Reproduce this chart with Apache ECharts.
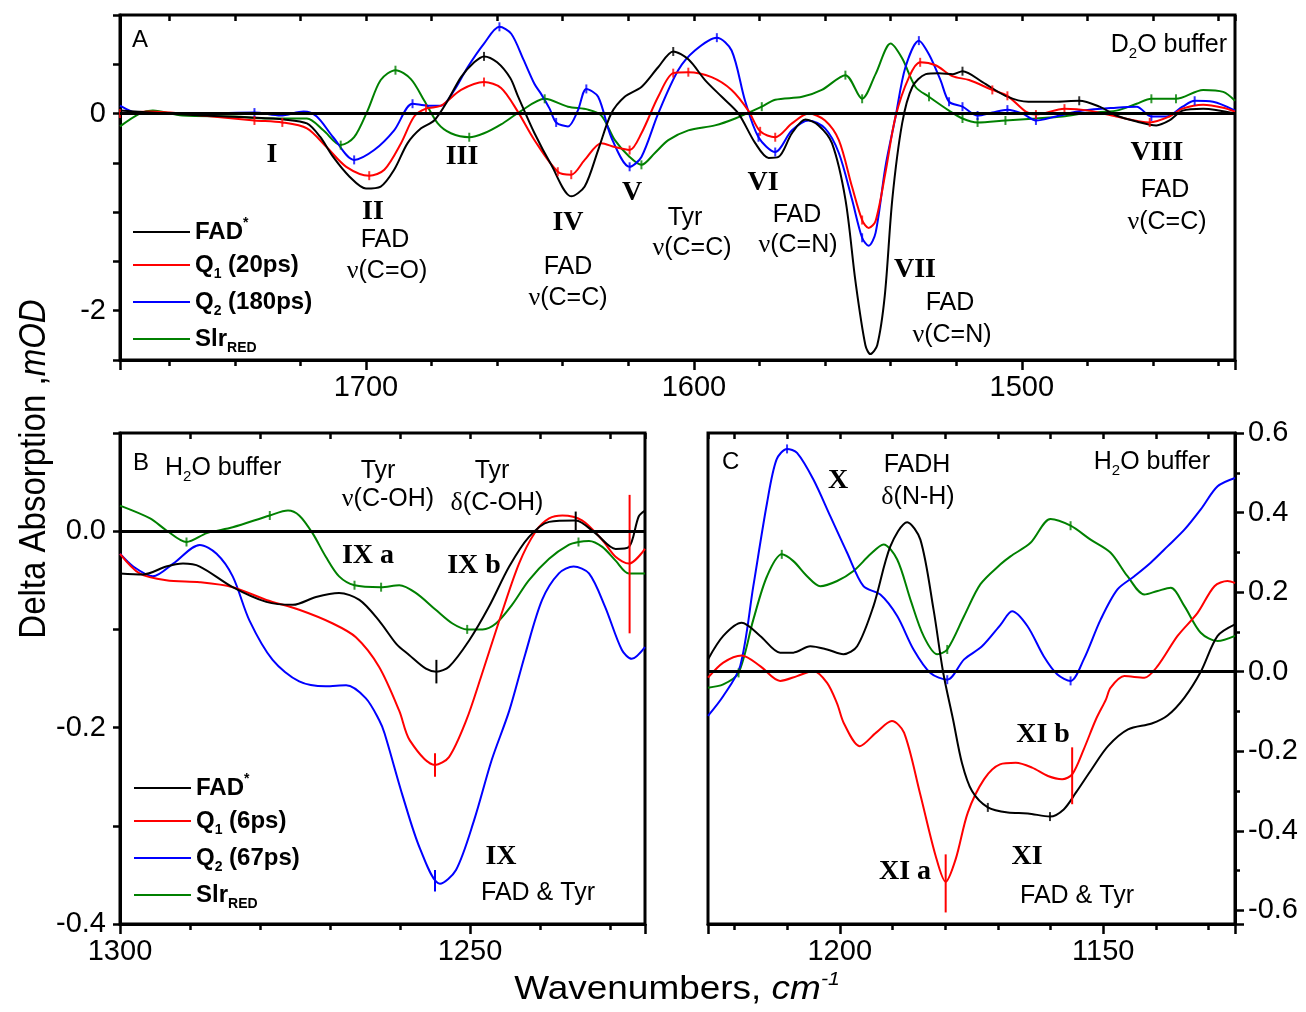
<!DOCTYPE html>
<html><head><meta charset="utf-8">
<script src="https://cdn.jsdelivr.net/npm/echarts@6/dist/echarts.min.js"></script>
<style>html,body{margin:0;padding:0;background:#fff}#c{width:1306px;height:1012px}</style>
</head><body><div id="c"></div>
<script>
// ---------------- DATA ----------------
// Panel A (D2O buffer): [wavenumber, mOD]
const A_FAD = [[1775,0.03],[1761,0.0],[1750,-0.02],[1735,-0.04],[1725,-0.06],[1718,-0.1],[1714,-0.235],[1710,-0.44],[1705,-0.64],[1700,-0.76],[1695.5,-0.74],[1691.4,-0.57],[1687.3,-0.30],[1683.2,-0.15],[1679.2,-0.07],[1675.1,0.13],[1671,0.37],[1667,0.52],[1664,0.58],[1660,0.52],[1656,0.36],[1653.7,0.18],[1648.6,-0.2],[1643.5,-0.52],[1637.4,-0.84],[1633.3,-0.74],[1629.2,-0.37],[1625.2,0.0],[1621.1,0.17],[1616,0.27],[1610.9,0.47],[1606.3,0.63],[1601.7,0.55],[1596.6,0.34],[1591.5,0.17],[1586.4,0.0],[1581.3,-0.3],[1577.2,-0.45],[1574.2,-0.44],[1570.1,-0.2],[1566,-0.06],[1562,-0.12],[1557.9,-0.3],[1553.8,-0.87],[1550.7,-1.71],[1547.7,-2.35],[1546.2,-2.44],[1544.1,-2.35],[1541.8,-1.85],[1539.5,-0.87],[1536.5,-0.1],[1533.4,0.27],[1529.3,0.40],[1525.3,0.41],[1521,0.40],[1518.1,0.43],[1512,0.32],[1505,0.18],[1498,0.12],[1490,0.12],[1482.5,0.13],[1476.3,0.07],[1471.2,-0.02],[1465,-0.08],[1459,-0.12],[1455,-0.07],[1451,0.03],[1444.7,0.05],[1435,0.0]];
const A_Q1 = [[1775,0.0],[1766,0.02],[1750,-0.02],[1734,-0.07],[1725.5,-0.09],[1718,-0.15],[1712,-0.34],[1706,-0.54],[1699,-0.63],[1694.4,-0.57],[1689.3,-0.3],[1685.3,-0.03],[1681.7,0.05],[1677.1,0.08],[1671,0.24],[1664,0.32],[1658.8,0.26],[1653.7,0.02],[1648.6,-0.27],[1641.5,-0.59],[1637.4,-0.62],[1633.3,-0.47],[1628.2,-0.30],[1624.1,-0.34],[1619.6,-0.37],[1616,-0.2],[1610.9,0.17],[1606.3,0.41],[1601.7,0.42],[1594.6,0.37],[1588.5,0.24],[1583.4,0.03],[1579.8,-0.18],[1575.2,-0.24],[1570.1,-0.1],[1565,0.0],[1560,-0.07],[1555.8,-0.27],[1551.8,-0.74],[1548.7,-1.08],[1546.7,-1.16],[1544.6,-1.09],[1541.6,-0.6],[1538.5,-0.03],[1534.4,0.37],[1531,0.52],[1526.3,0.49],[1521.2,0.38],[1516.1,0.34],[1509,0.24],[1504.4,0.18],[1498.8,0.02],[1495.7,-0.01],[1487,0.05],[1479.4,0.03],[1471.2,-0.03],[1461,-0.09],[1455,-0.03],[1451,0.05],[1444.7,0.09],[1438.6,0.06],[1435,0.02]];
const A_Q2 = [[1775,0.08],[1769,0.0],[1750,0.0],[1734,0.01],[1726,-0.02],[1719,0.02],[1715,-0.03],[1710,-0.24],[1703.6,-0.47],[1697.5,-0.37],[1691.4,-0.17],[1685.8,0.1],[1681.2,0.08],[1677.1,0.08],[1673,0.24],[1669,0.47],[1664,0.71],[1659.3,0.88],[1655.7,0.81],[1652,0.55],[1648.6,0.3],[1646.6,0.2],[1644,0.05],[1642,-0.09],[1638.4,-0.13],[1635.4,0.03],[1632.8,0.25],[1629.2,0.17],[1625.2,-0.24],[1619.6,-0.54],[1616,-0.44],[1610.9,0.0],[1604.8,0.44],[1599.7,0.64],[1593,0.77],[1588.5,0.64],[1584.4,0.13],[1580.3,-0.24],[1575.2,-0.39],[1570.1,-0.17],[1565,-0.07],[1560,-0.15],[1555.8,-0.4],[1551.8,-0.87],[1548.7,-1.26],[1546.7,-1.34],[1544.6,-1.21],[1541.6,-0.54],[1538.5,-0.03],[1535.5,0.47],[1531.4,0.74],[1528.3,0.6],[1524.8,0.34],[1522.2,0.12],[1518.1,0.07],[1513.5,-0.02],[1509,0.01],[1504.4,0.04],[1499.8,0.0],[1495.7,-0.07],[1489.6,-0.03],[1481.4,0.03],[1471.2,0.06],[1465,0.07],[1460.5,-0.03],[1456,-0.03],[1451,0.07],[1447.3,0.13],[1441.7,0.12],[1435,0.03]];
const A_SLR = [[1775,-0.13],[1769,0.0],[1765,0.03],[1756,-0.02],[1740,-0.03],[1730,-0.05],[1718,-0.05],[1713,-0.17],[1707.7,-0.32],[1703.6,-0.24],[1699.5,0.03],[1695.5,0.34],[1691,0.44],[1686.3,0.35],[1682.2,0.13],[1678.1,-0.1],[1674.1,-0.2],[1668.5,-0.24],[1664,-0.2],[1658.8,-0.11],[1653,0.02],[1645.5,0.15],[1638.4,0.07],[1632.3,0.04],[1628.2,-0.02],[1624.1,-0.27],[1619.6,-0.44],[1616,-0.52],[1611.9,-0.4],[1607.8,-0.27],[1601.7,-0.17],[1593.6,-0.12],[1587.4,-0.05],[1579.3,0.07],[1575.2,0.14],[1567,0.17],[1561,0.24],[1553.8,0.39],[1548.7,0.15],[1544.6,0.4],[1540,0.71],[1536.5,0.56],[1532.4,0.27],[1528.3,0.17],[1522.2,0.03],[1518.1,-0.05],[1513.5,-0.09],[1505,-0.07],[1495.7,-0.05],[1487.6,-0.03],[1479.4,0.01],[1471.2,0.03],[1465,0.1],[1460.5,0.15],[1453,0.15],[1444.7,0.24],[1438.6,0.22],[1435,0.13]];
// small point markers on panel A curves
const A_FAD_PTS = [[1664,0.58],[1606.3,0.63],[1518.1,0.43],[1482.5,0.13]];
const A_Q1_PTS = [[1775,0.0],[1734,-0.07],[1725.5,-0.09],[1699,-0.63],[1681.7,0.05],[1664,0.32],[1641.5,-0.59],[1637.4,-0.62],[1619.6,-0.37],[1606.3,0.41],[1601.7,0.42],[1579.8,-0.18],[1575.2,-0.24],[1548.7,-1.08],[1531,0.52],[1509,0.24],[1504.4,0.18],[1495.7,-0.01],[1487,0.05],[1461,-0.09]];
const A_Q2_PTS = [[1734,0.01],[1703.6,-0.47],[1685.8,0.1],[1659.3,0.88],[1642,-0.09],[1632.8,0.25],[1619.6,-0.54],[1593,0.77],[1580.3,-0.24],[1575.2,-0.39],[1548.7,-1.26],[1531.4,0.74],[1522.2,0.12],[1518.1,0.07],[1513.5,-0.02],[1504.4,0.04],[1495.7,-0.07],[1460.5,-0.03],[1447.3,0.13]];
const A_SLR_PTS = [[1707.7,-0.32],[1691,0.44],[1668.5,-0.24],[1645.5,0.15],[1616,-0.52],[1579.3,0.07],[1553.8,0.39],[1548.7,0.15],[1528.3,0.17],[1518.1,-0.05],[1513.5,-0.09],[1505,-0.07],[1460.5,0.15],[1453,0.15]];

// Panel B (H2O buffer)
const B_FAD = [[1300,-0.043],[1296.7,-0.044],[1293.4,-0.036],[1291,-0.033],[1288.6,-0.036],[1283.9,-0.057],[1279.1,-0.072],[1275.3,-0.075],[1272,-0.067],[1268.7,-0.063],[1265.8,-0.07],[1263,-0.091],[1260.5,-0.115],[1258.7,-0.126],[1256.3,-0.14],[1254.8,-0.143],[1253,-0.138],[1250.1,-0.111],[1247.3,-0.077],[1244.4,-0.036],[1241.6,-0.006],[1238.7,0.0095],[1234.9,0.011],[1232.1,-0.002],[1229.2,-0.018],[1227.3,-0.016],[1225.9,0.015],[1225,0.021]];
const B_Q1 = [[1300,-0.023],[1297.2,-0.043],[1293.4,-0.05],[1288.6,-0.052],[1283.9,-0.057],[1279.1,-0.07],[1274.4,-0.08],[1269.6,-0.094],[1266.3,-0.108],[1263,-0.138],[1260.1,-0.183],[1258.6,-0.213],[1255,-0.238],[1253,-0.23],[1250.5,-0.192],[1248.5,-0.15],[1246,-0.095],[1243,-0.033],[1240.6,0.0],[1238.7,0.013],[1236.8,0.016],[1234,0.011],[1231.1,-0.009],[1229.2,-0.026],[1227.3,-0.033],[1225,-0.018]];
const B_Q2 = [[1300,-0.023],[1298.1,-0.036],[1295.3,-0.046],[1292.4,-0.033],[1288.6,-0.014],[1286.2,-0.023],[1283.9,-0.046],[1281.5,-0.091],[1278.2,-0.131],[1274.4,-0.153],[1270.6,-0.158],[1267.7,-0.157],[1264.9,-0.17],[1263,-0.192],[1262.2,-0.206],[1259.6,-0.27],[1257.1,-0.324],[1254.3,-0.359],[1252,-0.345],[1249.4,-0.294],[1246.9,-0.233],[1244.4,-0.183],[1242.1,-0.125],[1239.7,-0.07],[1237.3,-0.043],[1235.2,-0.036],[1233,-0.043],[1230.7,-0.077],[1228.3,-0.121],[1226.9,-0.13],[1225,-0.118]];
const B_SLR = [[1300,0.026],[1295.7,0.013],[1293.4,0.001],[1290.5,-0.011],[1287.6,-0.002],[1283.9,0.004],[1278.6,0.016],[1276,0.021],[1274.4,0.016],[1272.5,-0.002],[1270.6,-0.026],[1268.7,-0.046],[1266.5,-0.055],[1262.7,-0.057],[1260.1,-0.055],[1257.7,-0.063],[1254.9,-0.08],[1252.5,-0.094],[1250.4,-0.1],[1248.2,-0.1],[1246.3,-0.094],[1244,-0.075],[1241.6,-0.05],[1238.7,-0.028],[1235.9,-0.014],[1234.5,-0.011],[1233,-0.01],[1231.1,-0.016],[1229.2,-0.03],[1227.3,-0.043],[1225,-0.043]];
const B_SLR_PTS = [[1290.5,-0.011],[1278.6,0.016],[1266.5,-0.055],[1262.7,-0.057],[1250.4,-0.1],[1234.5,-0.011]];
// error bars [wavenumber, low, high]
const B_FAD_BARS = [[1254.8,-0.155,-0.131],[1234.9,0.001,0.02]];
const B_Q1_BARS = [[1255,-0.250,-0.226],[1227.2,-0.104,0.037]];
const B_Q2_BARS = [[1255,-0.367,-0.345]];

// Panel C (H2O buffer)
const C_FAD = [[1225,0.031],[1222.1,0.09],[1218.6,0.123],[1215.1,0.09],[1211.3,0.048],[1208.8,0.048],[1205.6,0.064],[1202.4,0.056],[1199.3,0.044],[1196.7,0.064],[1193.6,0.165],[1190.4,0.315],[1187.2,0.376],[1184.7,0.332],[1182.2,0.156],[1180.4,0.0],[1178.5,-0.12],[1176.8,-0.23],[1174.9,-0.3],[1171.9,-0.341],[1168.1,-0.354],[1164.3,-0.356],[1160.1,-0.364],[1157.5,-0.346],[1155.2,-0.304],[1152.2,-0.245],[1149.1,-0.187],[1145.3,-0.145],[1140.8,-0.13],[1137.8,-0.11],[1134.6,-0.065],[1131.5,0.0],[1128.3,0.09],[1125,0.119]];
const C_Q1 = [[1225,-0.015],[1222.1,0.023],[1218.6,0.041],[1215.1,0.014],[1211.3,-0.023],[1208.1,-0.011],[1205,0.002],[1202.4,-0.028],[1200.5,-0.08],[1199.2,-0.13],[1196.2,-0.187],[1193.1,-0.153],[1190.1,-0.124],[1187.8,-0.153],[1184.8,-0.304],[1181.8,-0.463],[1179.9,-0.528],[1178,-0.471],[1175.7,-0.354],[1172.6,-0.27],[1169.6,-0.233],[1166.6,-0.229],[1163.5,-0.241],[1160.5,-0.262],[1157.8,-0.27],[1155.9,-0.258],[1153.7,-0.195],[1151.4,-0.12],[1149.5,-0.07],[1148.6,-0.04],[1146,-0.011],[1142.2,-0.015],[1139.7,0.014],[1135.9,0.09],[1132.1,0.148],[1128.9,0.215],[1126.4,0.228],[1125,0.223]];
const C_Q2 = [[1225,-0.111],[1222.1,-0.061],[1218.9,0.014],[1216.4,0.215],[1213.8,0.424],[1212,0.533],[1210,0.56],[1208.1,0.55],[1205,0.483],[1201.8,0.391],[1198.6,0.299],[1195.5,0.215],[1192.3,0.194],[1189.1,0.14],[1186,0.056],[1182.8,-0.003],[1179.6,-0.02],[1176.4,0.031],[1173,0.064],[1169.5,0.118],[1167.3,0.152],[1164.4,0.115],[1161.3,0.039],[1158.7,-0.007],[1156.2,-0.023],[1153.7,0.031],[1150.5,0.131],[1147.3,0.207],[1144.1,0.24],[1141,0.274],[1137.8,0.315],[1134.6,0.357],[1131.5,0.408],[1128.3,0.466],[1125,0.487]];
const C_SLR = [[1225,-0.04],[1222.1,-0.032],[1219.2,-0.003],[1216.4,0.131],[1213.8,0.24],[1211,0.295],[1208.8,0.278],[1206.2,0.24],[1203.7,0.215],[1200.5,0.228],[1197.4,0.253],[1194.2,0.295],[1191.7,0.32],[1189.1,0.282],[1186.6,0.182],[1184.1,0.09],[1181.5,0.044],[1179.6,0.056],[1176.4,0.14],[1173.3,0.22],[1169.5,0.27],[1167.6,0.29],[1163.8,0.324],[1160,0.384],[1156.2,0.367],[1152.4,0.332],[1148.6,0.299],[1145.4,0.24],[1142.2,0.194],[1139.7,0.203],[1137.2,0.211],[1134.6,0.165],[1131.5,0.098],[1128.3,0.077],[1125,0.09]];
const C_FAD_PTS = [[1171.9,-0.341],[1160.1,-0.364]];
const C_Q2_PTS = [[1210,0.56],[1179.6,-0.02],[1156.2,-0.023]];
const C_SLR_PTS = [[1219.2,-0.003],[1211,0.295],[1179.6,0.056],[1156.2,0.367]];
const C_Q1_BARS = [[1179.9,-0.605,-0.459],[1155.9,-0.333,-0.19]];

// axis ranges and tick labels
const A_X = [1435, 1775], B_X = [1225, 1300], C_X = [1125, 1225];
const A_Y = [-2.5, 1.0], B_Y = [-0.4, 0.1], C_Y = [-0.634, 0.6];
const A_YLABELS = [0, -2];
const LEG_A = ['FAD*', 'Q1 (20ps)', 'Q2 (180ps)', 'SlrRED'];
const LEG_B = ['FAD* ', 'Q1 (6ps)', 'Q2 (67ps)', 'SlrRED '];
const LEG_C = ['FAD*  ', 'Q1  ', 'Q2  ', 'SlrRED  '];

// ---------------- STYLE ----------------
const SANS = 'Liberation Sans', SERIF = 'Liberation Serif';
const COLORS = ['#000000', '#ff0000', '#0000ff', '#008000'];
const chart = echarts.init(document.getElementById('c'), null, {renderer: 'canvas'});

const grids = [
  {left: 120, top: 15, width: 1115, height: 345},
  {left: 120, top: 433, width: 525, height: 491},
  {left: 708, top: 433, width: 527, height: 491}
].map(g => Object.assign(g, {show: true, borderColor: '#000', borderWidth: 3, backgroundColor: 'transparent'}));

const labelStyle = {fontFamily: SANS, fontSize: 29, color: '#000'};
function xMajor(grid, range, step) {
  return {type: 'value', gridIndex: grid, position: 'bottom', min: range[0], max: range[1], inverse: true,
    minInterval: step, maxInterval: step, splitNumber: 3,
    axisLine: {show: true, onZero: false, lineStyle: {color: '#000', width: 3}},
    axisTick: {show: true, length: 10, lineStyle: {color: '#000', width: 2.5}},
    axisLabel: Object.assign({margin: 13, showMinLabel: true, showMaxLabel: true,
      formatter: v => (Math.abs(v / step - Math.round(v / step)) < 1e-6 ? String(Math.round(v)) : '')}, labelStyle),
    splitLine: {show: false}};
}
function xMinor(grid, range, step, pos) {
  return {type: 'value', gridIndex: grid, position: pos, min: range[0], max: range[1], inverse: true,
    minInterval: step, maxInterval: step, splitNumber: 10,
    axisLine: {show: false, onZero: false},
    axisTick: {show: true, inside: pos === 'top', length: 6, lineStyle: {color: '#000', width: 2.5}},
    axisLabel: {show: false}, splitLine: {show: false}};
}
const xAxes = [
  xMajor(0, A_X, 100), xMinor(0, A_X, 20, 'bottom'), xMinor(0, A_X, 20, 'top'),
  xMajor(1, B_X, 50), xMinor(1, B_X, 10, 'bottom'), xMinor(1, B_X, 10, 'top'),
  xMajor(2, C_X, 50), xMinor(2, C_X, 10, 'bottom'), xMinor(2, C_X, 10, 'top')
];
const yAxes = [
  {type: 'value', gridIndex: 0, position: 'left', min: A_Y[0], max: A_Y[1], interval: 0.5,
    axisLine: {show: true, onZero: false, lineStyle: {color: '#000', width: 3}},
    axisTick: {show: true, length: 7, lineStyle: {color: '#000', width: 2.5}},
    axisLabel: Object.assign({margin: 14, formatter: v => (A_YLABELS.some(t => Math.abs(t - v) < 1e-9) ? String(Math.round(v)) : '')}, labelStyle),
    splitLine: {show: false}},
  {type: 'value', gridIndex: 1, position: 'left', min: B_Y[0], max: B_Y[1], interval: 0.1,
    axisLine: {show: true, onZero: false, lineStyle: {color: '#000', width: 3}},
    axisTick: {show: true, length: 7, lineStyle: {color: '#000', width: 2.5}},
    axisLabel: Object.assign({margin: 14, formatter: v => {const k = Math.round(v * 10); return (Math.abs(v * 10 - k) < 1e-6 && k % 2 === 0) ? (k / 10).toFixed(1) : '';}}, labelStyle),
    splitLine: {show: false}},
  {type: 'value', gridIndex: 2, position: 'right', min: C_Y[0], max: C_Y[1], minInterval: 0.2, maxInterval: 0.2, splitNumber: 6,
    axisLine: {show: true, onZero: false, lineStyle: {color: '#000', width: 3}},
    axisTick: {show: true, length: 9, lineStyle: {color: '#000', width: 2.5}},
    axisLabel: Object.assign({margin: 13, formatter: v => {const k = Math.round(v * 10); return (Math.abs(v * 10 - k) < 1e-6 && k % 2 === 0) ? (k / 10).toFixed(1) : '';}}, labelStyle),
    splitLine: {show: false}},
  {type: 'value', gridIndex: 2, position: 'right', min: C_Y[0], max: C_Y[1], minInterval: 0.1, maxInterval: 0.1, splitNumber: 12,
    axisLine: {show: false, onZero: false},
    axisTick: {show: true, length: 5, lineStyle: {color: '#000', width: 2.5}},
    axisLabel: {show: false}, splitLine: {show: false}}
];

const zeroLine = {silent: true, symbol: ['none', 'none'], label: {show: false},
  lineStyle: {color: '#000', width: 3, type: 'solid'}, data: [{yAxis: 0}]};

function line(name, data, ci, xi, yi, withZero) {
  const s = {type: 'line', name, data, xAxisIndex: xi, yAxisIndex: yi, smooth: 0.3, symbol: 'none', showSymbol: false,
    lineStyle: {color: COLORS[ci], width: 2}, itemStyle: {color: COLORS[ci]}, z: 3, animation: false};
  if (withZero) s.markLine = zeroLine;
  return s;
}
function pts(data, ci, xi, yi) {
  return {type: 'scatter', data, xAxisIndex: xi, yAxisIndex: yi, symbol: 'rect', symbolSize: [2, 9],
    itemStyle: {color: COLORS[ci]}, silent: true, z: 4, animation: false};
}
function bars(data, ci, xi, yi) {
  return {type: 'custom', data, xAxisIndex: xi, yAxisIndex: yi, silent: true, z: 4, animation: false,
    encode: {x: 0, y: [1, 2]},
    renderItem: (p, api) => {
      const a = api.coord([api.value(0), api.value(1)]);
      const b = api.coord([api.value(0), api.value(2)]);
      return {type: 'line', shape: {x1: a[0], y1: a[1], x2: b[0], y2: b[1]}, style: {stroke: COLORS[ci], lineWidth: 2}};
    }};
}

const series = [
  line(LEG_A[3], A_SLR, 3, 0, 0), line(LEG_A[2], A_Q2, 2, 0, 0), line(LEG_A[1], A_Q1, 1, 0, 0), line(LEG_A[0], A_FAD, 0, 0, 0, true),
  pts(A_SLR_PTS, 3, 0, 0), pts(A_Q2_PTS, 2, 0, 0), pts(A_Q1_PTS, 1, 0, 0), pts(A_FAD_PTS, 0, 0, 0),
  line(LEG_B[3], B_SLR, 3, 3, 1), line(LEG_B[2], B_Q2, 2, 3, 1), line(LEG_B[1], B_Q1, 1, 3, 1), line(LEG_B[0], B_FAD, 0, 3, 1, true),
  pts(B_SLR_PTS, 3, 3, 1), bars(B_FAD_BARS, 0, 3, 1), bars(B_Q1_BARS, 1, 3, 1), bars(B_Q2_BARS, 2, 3, 1),
  line(LEG_C[3], C_SLR, 3, 6, 2), line(LEG_C[2], C_Q2, 2, 6, 2), line(LEG_C[1], C_Q1, 1, 6, 2), line(LEG_C[0], C_FAD, 0, 6, 2, true),
  pts(C_FAD_PTS, 0, 6, 2), pts(C_Q2_PTS, 2, 6, 2), pts(C_SLR_PTS, 3, 6, 2), bars(C_Q1_BARS, 1, 6, 2)
];

const legRich = {
  b: {fontFamily: SANS, fontWeight: 'bold', fontSize: 24, color: '#000', lineHeight: 32, verticalAlign: 'middle'},
  sub: {fontFamily: SANS, fontWeight: 'bold', fontSize: 14, color: '#000', lineHeight: 10, verticalAlign: 'bottom'},
  sup: {fontFamily: SANS, fontWeight: 'bold', fontSize: 14, color: '#000', lineHeight: 12, verticalAlign: 'top'}
};
function legFmt(name) {
  const n = name.trim();
  if (n === 'FAD*') return '{b|FAD}{sup|*}';
  if (n === 'SlrRED') return '{b|Slr}{sub|RED}';
  return '{b|Q}{sub|' + n[1] + '}{b|' + n.slice(2) + '}';
}
function legend(names, left, top) {
  return {data: names.map(n => ({name: n, icon: 'rect'})), orient: 'vertical', left, top, padding: 0, itemGap: 9,
    itemWidth: 57, itemHeight: 2, selectedMode: false, formatter: legFmt, textStyle: {rich: legRich}};
}

// ---------------- ANNOTATIONS (layout) ----------------
const RN = {fontFamily: SERIF, fontWeight: 'bold', fontSize: 28};
const AN = {fontFamily: SANS, fontSize: 25};
const annRich = {
  n: {fontFamily: SANS, fontSize: 25, fill: '#000'},
  g: {fontFamily: SERIF, fontSize: 26, fill: '#000'},
  s: {fontFamily: SANS, fontSize: 15, fill: '#000', lineHeight: 12, verticalAlign: 'bottom'},
  t: {fontFamily: SANS, fontSize: 25, fill: '#000', lineHeight: 32, verticalAlign: 'middle'}
};
function txt(text, x, y, st, align) {
  return {type: 'text', x, y, silent: true, z: 10,
    style: Object.assign({text, fill: '#000', align: align || 'center', verticalAlign: 'middle', rich: annRich}, st)};
}
const graphics = [
  txt('A', 132, 40, {fontFamily: SANS, fontSize: 24}, 'left'),
  txt('{t|D}{s|2}{t|O buffer}', 1227, 45, {}, 'right'),
  txt('I', 272, 155, RN), txt('II', 373, 212, RN), txt('FAD', 385, 240, AN), txt('{g|ν}{n|(C=O)}', 387, 271, {}),
  txt('III', 462, 157, RN), txt('IV', 568, 223, RN), txt('FAD', 568, 267, AN), txt('{g|ν}{n|(C=C)}', 568, 298, {}),
  txt('V', 632, 193, RN), txt('Tyr', 685, 218, AN), txt('{g|ν}{n|(C=C)}', 692, 248, {}),
  txt('VI', 763, 183, RN), txt('FAD', 797, 215, AN), txt('{g|ν}{n|(C=N)}', 798, 245, {}),
  txt('VII', 915, 270, RN), txt('FAD', 950, 303, AN), txt('{g|ν}{n|(C=N)}', 952, 335, {}),
  txt('VIII', 1157, 153, RN), txt('FAD', 1165, 190, AN), txt('{g|ν}{n|(C=C)}', 1167, 222, {}),
  // panel B
  txt('B', 133, 463, {fontFamily: SANS, fontSize: 24}, 'left'),
  txt('{t|H}{s|2}{t|O buffer}', 165, 468, {}, 'left'),
  txt('Tyr', 378, 471, AN), txt('{g|ν}{n|(C-OH)}', 388, 499, {}),
  txt('Tyr', 492, 471, AN), txt('{g|δ}{n|(C-OH)}', 497, 503, {}),
  txt('IX a', 368, 556, RN), txt('IX b', 474, 566, RN),
  txt('IX', 501, 857, RN), txt('FAD & Tyr', 538, 893, AN),
  // panel C
  txt('C', 722, 462, {fontFamily: SANS, fontSize: 24}, 'left'),
  txt('X', 838, 481, RN), txt('FADH', 917, 465, AN), txt('{g|δ}{n|(N-H)}', 918, 497, {}),
  txt('{t|H}{s|2}{t|O buffer}', 1210, 462, {}, 'right'),
  txt('XI b', 1043, 735, RN), txt('XI a', 905, 872, RN), txt('XI', 1027, 857, RN), txt('FAD & Tyr', 1077, 896, AN),
  // axis titles
  {type: 'text', x: 35, y: 469, rotation: Math.PI / 2, scaleY: 1.1, silent: true,
    style: {text: '{n|Delta Absorption ,}{i|mOD}', align: 'center', verticalAlign: 'middle',
      rich: {n: {fontFamily: SANS, fontSize: 33, fill: '#000'}, i: {fontFamily: SANS, fontSize: 33, fontStyle: 'italic', fill: '#000'}}}},
  {type: 'text', x: 677, y: 990, scaleX: 1.12, silent: true,
    style: {text: '{n|Wavenumbers, }{i|cm}{u|-1}', align: 'center', verticalAlign: 'middle',
      rich: {n: {fontFamily: SANS, fontSize: 33, fill: '#000', lineHeight: 40, verticalAlign: 'middle'},
        i: {fontFamily: SANS, fontSize: 33, fontStyle: 'italic', fill: '#000', lineHeight: 40, verticalAlign: 'middle'},
        u: {fontFamily: SANS, fontSize: 19, fontStyle: 'italic', fill: '#000', lineHeight: 16, verticalAlign: 'top'}}}}
];

chart.setOption({
  animation: false,
  backgroundColor: '#fff',
  grid: grids,
  xAxis: xAxes,
  yAxis: yAxes,
  legend: [legend(LEG_A, 133, 216), legend(LEG_B, 134, 772)],
  series,
  graphic: graphics
});
</script>
</body></html>
